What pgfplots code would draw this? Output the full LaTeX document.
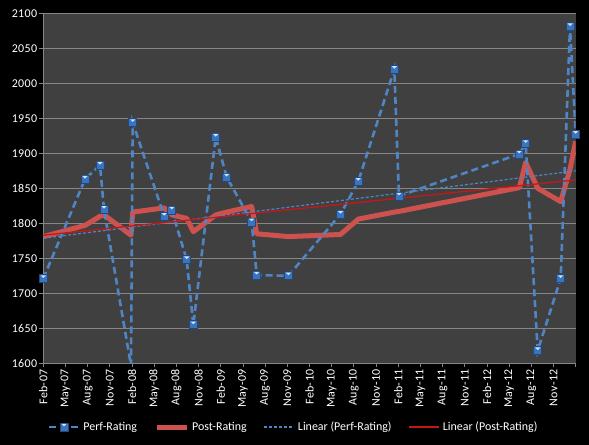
\documentclass[border=0pt]{standalone}
\usepackage{pgfplots}
\pgfplotsset{compat=1.18}
\usepackage{fontspec}
\setmainfont{Carlito}
\definecolor{plotbg}{RGB}{64,64,64}
\definecolor{gridgray}{RGB}{134,134,134}
\definecolor{axgray}{RGB}{134,134,134}
\definecolor{perfblue}{RGB}{79,133,196}
\definecolor{mkblue}{RGB}{58,116,188}
\definecolor{mkdark}{RGB}{36,72,125}
\definecolor{mklight}{RGB}{205,228,250}
\definecolor{postred}{RGB}{205,82,78}
\definecolor{linred}{RGB}{200,22,22}
\pgfdeclareplotmark{xlsq}{%
  \pgfpathrectangle{\pgfpoint{-4bp}{-4bp}}{\pgfpoint{8bp}{8bp}}%
  \pgfsetfillcolor{mkblue}\pgfsetstrokecolor{mkdark}\pgfsetlinewidth{0.6bp}%
  \pgfusepath{fill,stroke}%
  \pgfpathmoveto{\pgfpoint{-2.6bp}{3.2bp}}\pgfpathlineto{\pgfpoint{2.6bp}{3.2bp}}\pgfpathlineto{\pgfpoint{0bp}{0.6bp}}\pgfpathclose
  \pgfsetfillcolor{mklight}\pgfusepath{fill}%
}
\pgfplotstableread{
x y
0 1721
5.64 1863
7.67 1883
8.21 1820
11.86 1597
12.09 1944
16.36 1810
17.37 1819
19.39 1748
20.29 1655
23.32 1923
24.80 1866
28.18 1802
28.86 1726
33.15 1725
40.19 1813
42.60 1860
47.47 2020
48.10 1839
64.38 1899
65.24 1914
66.86 1618
69.97 1721
71.23 2081
72.0 1927
}\perftable
\pgfplotstableread{
x y
0 1781
5.64 1797
7.67 1810
8.21 1812
11.86 1783
12.09 1816
16.36 1822
17.37 1812
19.39 1807
20.29 1788
23.32 1812
24.80 1816
28.18 1824
28.86 1785
33.15 1781
40.19 1784
42.60 1806
47.47 1816
48.10 1817
64.38 1851
65.24 1887
66.86 1850
69.97 1831
71.23 1877
72.0 1917
}\posttable
\begin{document}
\begin{tikzpicture}
\fill[black] (0,0) rectangle (589bp,445bp);
\begin{axis}[
  at={(43.3bp,81.7bp)}, anchor=south west,
  scale only axis, width=532.4bp, height=350bp,
  axis background/.style={fill=plotbg},
  xmin=0, xmax=72, ymin=1600, ymax=2100,
  axis x line*=bottom, axis y line*=left,
  axis line style={draw=axgray, line width=0.8bp},
  xtick={0,3,...,72},
  xticklabels={Feb-07,May-07,Aug-07,Nov-07,Feb-08,May-08,Aug-08,Nov-08,Feb-09,May-09,Aug-09,Nov-09,Feb-10,May-10,Aug-10,Nov-10,Feb-11,May-11,Aug-11,Nov-11,Feb-12,May-12,Aug-12,Nov-12,{}},
  ytick={1600,1650,...,2100},
  ymajorgrids, grid style={draw=gridgray, line width=0.8bp},
  tick align=outside, major tick length=4bp,
  tick style={draw=axgray, line width=0.8bp},
  ticklabel style={font=\fontsize{12}{14}\selectfont\addfontfeatures{LetterSpace=3}, text=white},
  x tick label style={rotate=90, anchor=east, inner sep=2bp},
  y tick label style={inner sep=2bp},
  yticklabel={\pgfmathprintnumber[fixed,1000 sep={},assume math mode=true]{\tick}},
  legend style={at={(0.008,-0.182)}, anchor=west, draw=none, fill=none,
    text=white, font=\fontsize{12}{14}\selectfont, inner sep=0pt,
    /tikz/every even column/.append style={column sep=15bp},
    /tikz/every odd column/.append style={column sep=1bp}},
  legend columns=4,
  legend image code/.code={\draw[mark repeat=2,mark phase=2,#1] plot coordinates {(0bp,0bp) (15bp,0bp) (30bp,0bp)};},
]
\addlegendimage{perfblue, line width=2.6bp, dash pattern=on 7bp off 4bp, mark=xlsq, mark options={solid}}
\addlegendimage{postred, line width=5bp}
\addlegendimage{perfblue, line width=1.2bp, dash pattern=on 3bp off 2bp}
\addlegendimage{linred, line width=1.3bp}
\addplot[forget plot, postred, line width=5bp, line join=round] table[x=x,y=y] {\posttable};
\addplot[forget plot, perfblue, line width=2.6bp, dash pattern=on 7bp off 4bp, mark=xlsq, mark options={solid}] table[x=x,y=y] {\perftable};
\addplot[forget plot, perfblue, line width=1.2bp, dash pattern=on 3bp off 2bp] coordinates {(0,1778.6) (72,1875)};
\addplot[forget plot, linred, line width=1.3bp] coordinates {(0,1783) (72,1862)};
\legend{Perf-Rating,Post-Rating,Linear (Perf-Rating),Linear (Post-Rating)}
\end{axis}
\end{tikzpicture}
\end{document}
